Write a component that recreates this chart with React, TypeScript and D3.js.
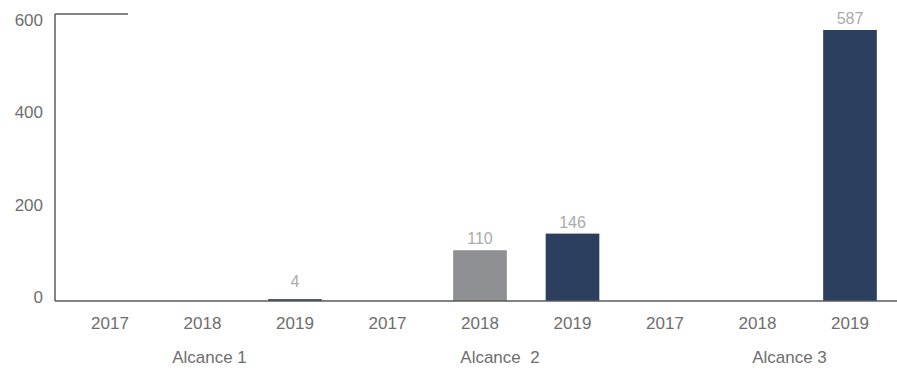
import React from "react";
import * as d3 from "d3";

const groups = ["Alcance 1", "Alcance  2", "Alcance 3"];
const years = ["2017", "2018", "2019"];
// values per group, per year (null = no bar)
const alcance1: (number | null)[] = [null, null, 4];
const alcance2: (number | null)[] = [null, 110, 146];
const alcance3: (number | null)[] = [null, null, 587];
const seriesValues = [alcance1, alcance2, alcance3];
const yTicks = [0, 200, 400, 600];

const W = 897;
const H = 374;
const groupLabelOffset = [7, 20, 32];

export default function App() {
  const cats = groups.flatMap((g, gi) => years.map((y, yi) => ({ key: `${gi}-${yi}`, g, gi, y, yi, v: seriesValues[gi][yi] })));
  const x = d3
    .scaleBand<string>()
    .domain(cats.map((c) => c.key))
    .range([63.75, 896.25])
    .paddingInner(0.42)
    .paddingOuter(0.21);
  const y = d3.scaleLinear().domain([0, 600]).range([301, 24]);
  const axisTop = 14;
  const axisX = 55;
  const navy = "#2c3f5e";
  const gray = "#8e9093";
  const font = "'Liberation Sans', Arial, sans-serif";

  return (
    <svg width={W} height={H} style={{ position: "absolute", left: 0, top: 0, background: "#fff" }} fontFamily={font}>
      {/* bars */}
      {cats.map((c) =>
        c.v == null ? null : (
          <g key={c.key}>
            <rect
              x={x(c.key)!}
              y={y(c.v)}
              width={x.bandwidth()}
              height={y(0) - y(c.v)}
              fill={c.y === "2018" ? gray : navy}
            />
            <text
              x={x(c.key)! + x.bandwidth() / 2}
              y={Math.min(y(c.v), y(0) - 8) - 6}
              textAnchor="middle"
              fontSize={16}
              fill="#ababab"
            >
              {c.v}
            </text>
          </g>
        )
      )}
      {/* axes */}
      <line x1={axisX} x2={axisX} y1={axisTop} y2={y(0)} stroke="#5a5a5a" strokeWidth={1.5} />
      <line x1={axisX} x2={128} y1={axisTop} y2={axisTop} stroke="#5a5a5a" strokeWidth={1.5} />
      <line x1={axisX} x2={W} y1={y(0)} y2={y(0)} stroke="#5a5a5a" strokeWidth={1.5} />
      {yTicks.map((t) => (
        <text key={t} x={43} y={y(t) - 4} dy="0.35em" textAnchor="end" fontSize={17} fill="#6e6e6e">
          {t}
        </text>
      ))}
      {cats.map((c) => (
        <text key={"l" + c.key} x={x(c.key)! + x.bandwidth() / 2} y={323} dy="0.35em" textAnchor="middle" fontSize={17} fill="#6e6e6e">
          {c.y}
        </text>
      ))}
      {groups.map((g, gi) => (
        <text
          key={g}
          x={x(`${gi}-1`)! + x.bandwidth() / 2 + groupLabelOffset[gi]}
          y={357}
          dy="0.35em"
          textAnchor="middle"
          fontSize={17}
          fill="#6e6e6e"
          style={{ whiteSpace: "pre" }}
        >
          {g}
        </text>
      ))}
    </svg>
  );
}
